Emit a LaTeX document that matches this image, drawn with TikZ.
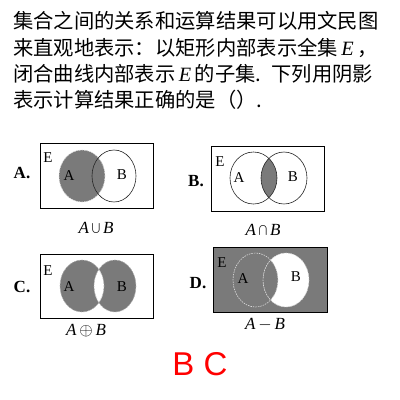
\documentclass[tikz,border=0pt]{standalone}
\usepackage{fontspec}
\setmainfont{Liberation Serif}
\newfontfamily\cjk{Noto Sans CJK SC}
\newfontfamily\sansf{Liberation Sans}
\newfontfamily\serifit{Liberation Serif Italic}
\definecolor{grayfill}{RGB}{122,122,122}
\tikzset{
  cjkline/.style={anchor=base west,inner sep=0pt,font=\cjk\fontsize{20.3}{24}\selectfont},
  uni/.style={draw=black,line width=0.8pt},
  ring/.style={draw=black!85,line width=0.6pt},
  dring/.style={draw=black!15,line width=0.6pt,dash pattern=on 1.5pt off 1pt},
  inlab/.style={inner sep=0pt,font=\fontsize{15}{15}\selectfont},
  plab/.style={inner sep=0pt,font=\bfseries\fontsize{17}{17}\selectfont},
  oplab/.style={inner sep=0pt,font=\serifit\fontsize{17}{17}\selectfont},
}
\begin{document}
\begin{tikzpicture}[x=1pt,y=-1pt]
\useasboundingbox (0,0) rectangle (400,400);
% question text
\node[cjkline] (l1) at (13,28) {集合之间的关系和运算结果可以用文民图};
\node[cjkline] (l2) at (13,55) {来直观地表示：以矩形内部表示全集\,{\serifit E}\,，};
\node[cjkline] (l3) at (13,81) {闭合曲线内部表示\,{\serifit E}\,的子集.\enspace 下列用阴影};
\node[cjkline] (l4) at (13,107) {表示计算结果正确的是（）.};

% Panel A
\fill[grayfill] (82,176) ellipse [x radius=23,y radius=26];
\draw[dring] (82,176) ellipse [x radius=23,y radius=26];
\draw[ring] (114,176) ellipse [x radius=22,y radius=26];
\draw[uni] (40,143) rectangle (153,208);
\node[inlab] (eA) at (48,158) {E};
\node[inlab] (aA) at (69,176) {A};
\node[inlab] (bA) at (122,175) {B};
\node[plab] (pA) at (22,173) {A.};
\node[oplab] (oA) at (96,228) {A$\,\bigcup\,$B};

% Panel B
\begin{scope}
\clip (253.5,178) ellipse [x radius=23.5,y radius=26];
\fill[grayfill] (284,178) ellipse [x radius=23,y radius=26];
\end{scope}
\draw[ring] (253.5,178) ellipse [x radius=23.5,y radius=26];
\draw[ring] (284,178) ellipse [x radius=23,y radius=26];
\draw[uni] (211,146) rectangle (324,211);
\node[inlab] (eB) at (220,162) {E};
\node[inlab] (aB) at (239,178) {A};
\node[inlab] (bB) at (293,177) {B};
\node[plab] (pB) at (196,181) {B.};
\node[oplab] (oB) at (263,230) {A$\,\bigcap\,$B};

% Panel C
\fill[grayfill] (82,286) ellipse [x radius=22,y radius=26];
\fill[grayfill] (115,286) ellipse [x radius=21,y radius=26];
\begin{scope}
\clip (82,286) ellipse [x radius=22,y radius=26];
\fill[white] (115,286) ellipse [x radius=21,y radius=26];
\end{scope}
\draw[dring,draw=black!30] (82,286) ellipse [x radius=22,y radius=26];
\draw[dring,draw=black!30] (115,286) ellipse [x radius=21,y radius=26];
\draw[uni] (40,254) rectangle (153,318);
\node[inlab] (eC) at (48,271) {E};
\node[inlab] (aC) at (69,287) {A};
\node[inlab] (bC) at (122,287) {B};
\node[plab] (pC) at (22,287) {C.};
\node[oplab] (oC) at (86,331) {A$\,\oplus\,$B};

% Panel D
\fill[grayfill] (213,247) rectangle (327,312);
\fill[white] (286,280) ellipse [x radius=23,y radius=27];
\begin{scope}
\clip (286,280) ellipse [x radius=23,y radius=27];
\fill[grayfill] (255.5,280) ellipse [x radius=22.5,y radius=27];
\end{scope}
\draw[dring] (255.5,280) ellipse [x radius=22.5,y radius=27];
\draw[dring] (286,280) ellipse [x radius=23,y radius=27];
\draw[uni] (213,247) rectangle (327,312);
\node[inlab] (eD) at (222,263) {E};
\node[inlab] (aD) at (243,279) {A};
\node[inlab] (bD) at (296,277) {B};
\node[plab] (pD) at (198,283) {D.};
\node[oplab] (oD) at (265,325) {A$\,-\,$B};

% answer
\node[inner sep=0pt,text=red,font=\sansf\fontsize{33}{33}\selectfont] (ans) at (200,364) {B C};
\end{tikzpicture}
\end{document}
